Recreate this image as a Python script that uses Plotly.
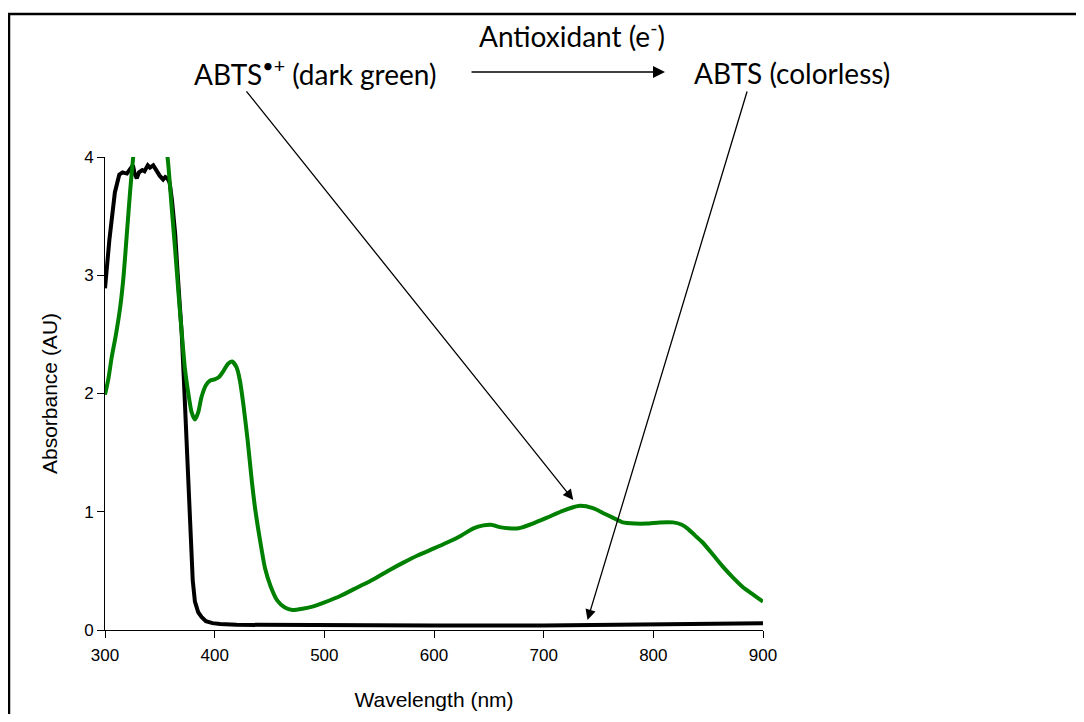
import plotly.graph_objects as go

# Wavelength (nm) / absorbance (AU)
abts_radical_nm = [300, 303, 306, 310, 314, 317, 320, 323, 326, 330, 340, 350, 354, 357,
                   361, 364, 367, 370, 373, 376, 379, 382, 385, 388, 392, 396, 400, 404,
                   408, 412, 416, 420, 423, 426, 430, 434, 437, 441, 446, 451, 457, 464,
                   471, 480, 490, 499, 515, 530, 545, 560, 572, 585, 600, 612, 625, 636,
                   645, 652, 660, 668, 677, 690, 703, 718, 733, 745, 754, 763, 772, 783,
                   794, 806, 818, 826, 831, 838, 845, 855, 864, 872, 882, 891, 900]
abts_radical_au = [1.99, 2.12, 2.30, 2.50, 2.74, 3.00, 3.36, 3.72, 4.03, 4.40, 4.60, 4.40, 4.15, 4.00,
                   3.55, 3.21, 2.85, 2.51, 2.20, 2.00, 1.84, 1.78, 1.84, 1.97, 2.07, 2.11, 2.12, 2.14,
                   2.19, 2.25, 2.27, 2.22, 2.11, 1.92, 1.61, 1.25, 1.02, 0.78, 0.52, 0.37, 0.25, 0.19,
                   0.17, 0.18, 0.20, 0.23, 0.29, 0.36, 0.43, 0.51, 0.57, 0.63, 0.69, 0.74, 0.80, 0.86,
                   0.885, 0.89, 0.87, 0.86, 0.86, 0.90, 0.95, 1.01, 1.05, 1.03, 0.99, 0.95, 0.91, 0.90,
                   0.90, 0.91, 0.91, 0.89, 0.86, 0.80, 0.74, 0.63, 0.53, 0.45, 0.36, 0.30, 0.24]

abts_nm = [300, 304, 309, 313, 316, 320, 323, 325.5, 327, 329, 331, 334, 336, 339, 341,
           344, 346, 348, 350, 353, 355, 357, 359, 361, 364, 366, 368, 370, 372, 374,
           376, 378, 380, 382, 385, 388, 392, 398, 405, 420, 500, 600, 700, 750, 800,
           850, 900]
abts_au = [2.89, 3.30, 3.70, 3.85, 3.87, 3.86, 3.90, 3.93, 3.86, 3.82, 3.87, 3.89, 3.88, 3.93, 3.91,
           3.93, 3.90, 3.86, 3.84, 3.81, 3.83, 3.82, 3.78, 3.64, 3.35, 3.05, 2.78, 2.50, 2.10, 1.70,
           1.20, 0.75, 0.42, 0.24, 0.15, 0.11, 0.075, 0.058, 0.05, 0.044, 0.039, 0.037, 0.038, 0.042, 0.046,
           0.051, 0.058]

x_ticks = [300, 400, 500, 600, 700, 800, 900]
y_ticks = [0, 1, 2, 3, 4]

label_font = "Lato, Open Sans, sans-serif"
axis_font = "Liberation Sans, Arial, sans-serif"

fig = go.Figure()
fig.add_trace(go.Scatter(x=abts_nm, y=abts_au, mode="lines",
                         line=dict(color="#000000", width=4), showlegend=False))
fig.add_trace(go.Scatter(x=abts_radical_nm, y=abts_radical_au, mode="lines",
                         line=dict(color="#008000", width=4, shape="spline", smoothing=0.6),
                         showlegend=False))

fig.update_layout(
    width=1068, height=706,
    margin=dict(l=97, r=313, t=149, b=84, autoexpand=False),
    paper_bgcolor="white", plot_bgcolor="white",
    xaxis=dict(range=[300, 900], tickvals=x_ticks, showline=True, linecolor="black",
               linewidth=1, ticks="outside", ticklen=7, tickcolor="black",
               showgrid=False, zeroline=False, ticklabelstandoff=3,
               tickfont=dict(family=axis_font, size=17, color="black"),
               title=dict(text="Wavelength (nm)", standoff=27,
                          font=dict(family=axis_font, size=21, color="black"))),
    yaxis=dict(range=[0, 4], tickvals=y_ticks, showline=True, linecolor="black",
               linewidth=1, ticks="outside", ticklen=7, tickcolor="black",
               showgrid=False, zeroline=False,
               tickfont=dict(family=axis_font, size=17, color="black"),
               title=dict(text="Absorbance (AU)", standoff=20,
                          font=dict(family=axis_font, size=21, color="black"))),
)

annotations = [
    dict(text="Antioxidant (e<sup>-</sup>)", xref="paper", yref="paper", x=0.7097, y=1.258,
         xanchor="center", yanchor="middle",
         showarrow=False, font=dict(family=label_font, size=28, color="black")),
    dict(text="ABTS<sup>•+</sup> (dark green)", xref="paper", yref="paper", x=0.3199, y=1.1776,
         xanchor="center", yanchor="middle",
         showarrow=False, font=dict(family=label_font, size=28, color="black")),
    dict(text="ABTS (colorless)", xref="paper", yref="paper", x=1.0441, y=1.1776,
         xanchor="center", yanchor="middle",
         showarrow=False, font=dict(family=label_font, size=28, color="black")),
    dict(text="", xref="paper", yref="paper", x=0.8511, y=1.1797, ax=-195, ay=0,
         showarrow=True, arrowhead=2, arrowsize=1.6, arrowwidth=1.5, arrowcolor="black"),
    dict(text="", xref="x", yref="y", x=727, y=1.10, ax=-328, ay=-410,
         showarrow=True, arrowhead=2, arrowsize=1.6, arrowwidth=1.3, arrowcolor="black"),
    dict(text="", xref="x", yref="y", x=740, y=0.085, ax=160, ay=-530,
         showarrow=True, arrowhead=2, arrowsize=1.6, arrowwidth=1.3, arrowcolor="black"),
]
fig.update_layout(annotations=annotations)

fig.add_shape(type="path", xref="paper", yref="paper",
              path="M -0.1459 -0.3 L -0.1459 1.3023 L 1.6 1.3023",
              line=dict(color="black", width=2.5))

fig.write_html("out.html")
